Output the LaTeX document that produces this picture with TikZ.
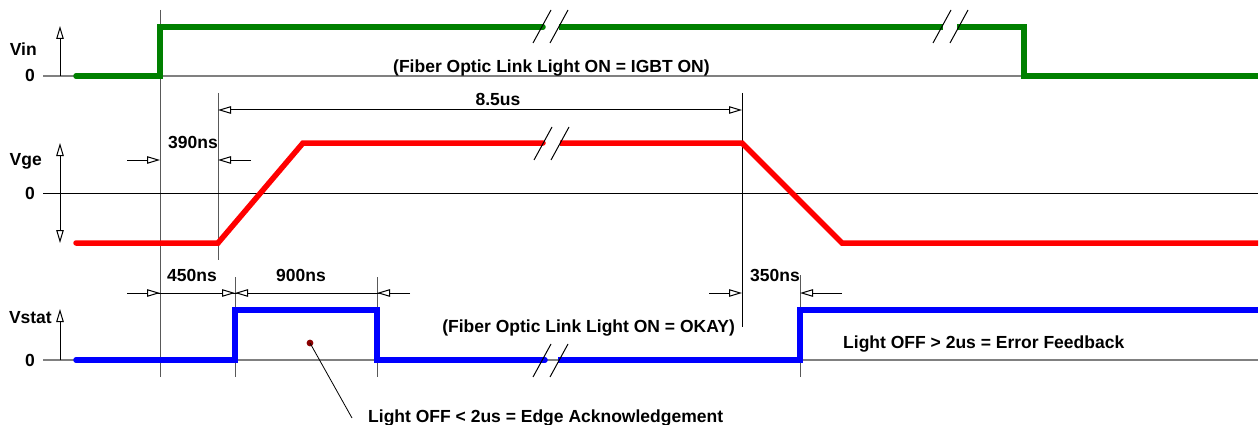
\documentclass[tikz,border=0pt]{standalone}
\usepackage{fontspec}
\setmainfont{Liberation Sans}
\usetikzlibrary{arrows.meta}
\definecolor{sgreen}{RGB}{0,128,0}
\definecolor{sred}{RGB}{255,0,0}
\definecolor{sblue}{RGB}{0,0,255}
\definecolor{dotred}{RGB}{139,0,0}
\begin{document}
\begin{tikzpicture}[x=1pt,y=-1pt,
  lbl/.style={font=\fontsize{17.5}{20}\selectfont\bfseries, inner sep=0pt},
  sig/.style={line width=5.5pt, line cap=butt, line join=miter},
  thinln/.style={line width=1pt},
  refln/.style={line width=1pt, draw=black!65},
  zeroln/.style={line width=1.2pt, draw=black!50},
  brk/.style={line width=1pt, draw=black},
  dimtip/.style={-{Triangle[open,length=13pt,width=7.5pt,fill=white]}},
  dimboth/.style={{Triangle[open,length=13pt,width=7.5pt,fill=white]}-{Triangle[open,length=13pt,width=7.5pt,fill=white]}},
  axtip/.style={-{Triangle[open,length=13pt,width=7.5pt,fill=white]}},
  axboth/.style={{Triangle[open,length=13pt,width=7.5pt,fill=white]}-{Triangle[open,length=13pt,width=7.5pt,fill=white]}}
]
\useasboundingbox (0,0) rectangle (1260,425);

% ---------- reference (vertical) lines ----------
\draw[refln] (160,10) -- (160,377);
\draw[refln] (218,93) -- (218,260);
\draw[thinln] (742,93) -- (742,327);
\draw[refln] (235,277) -- (235,377);
\draw[refln] (377,277) -- (377,377);
\draw[refln] (800,275) -- (800,377);

% ---------- zero lines ----------
\draw[zeroln] (43,76) -- (1024,76);
\draw[thinln] (43,193) -- (1258,193);
\draw[zeroln] (43,360) -- (1258,360);

% ---------- axes ----------
\draw[thinln,axtip] (60,76) -- (60,26);
\draw[thinln,axboth] (60,243) -- (60,143);
\draw[thinln,axtip] (60,360) -- (60,309);

% ---------- axis labels ----------
\node[lbl, anchor=base east] (vin) at (37,56) {Vin};
\node[lbl, anchor=base east] (vin0) at (35,82) {0};
\node[lbl, anchor=base east] (vge) at (42,165) {Vge};
\node[lbl, anchor=base east] (vge0) at (35,199) {0};
\node[lbl, anchor=base east] (vstat) at (52,323) {Vstat};
\node[lbl, anchor=base east] (vstat0) at (35,366) {0};

% ---------- signals ----------
\draw[sig, sgreen, line cap=round] (76,76) -- (160,76) -- (160,27) -- (543,27);
\draw[sig, sgreen] (559,27) -- (943,27);
\draw[sig, sgreen] (957,27) -- (1024,27) -- (1024,76) -- (1258,76);

\draw[sig, sred, line cap=round] (76,243) -- (218,243) -- (303,143) -- (543,143);
\draw[sig, sred] (560,143) -- (742,143) -- (842,243) -- (1258,243);

\draw[sig, sblue, line cap=round] (76,360) -- (235,360) -- (235,310) -- (377,310) -- (377,360) -- (545,360);
\draw[sig, sblue] (558,360) -- (800,360) -- (800,310) -- (1258,310);

% ---------- break marks ----------
\foreach \bx/\by in {533/43, 933/43, 534/160, 533/377} {
  \draw[brk] (\bx,\by) -- ++(18,-33);
  \draw[brk] (\bx+17,\by) -- ++(18,-33);
}

% ---------- dimensions ----------
\draw[thinln,dimtip] (127,160) -- (160,160);
\draw[thinln,dimtip] (251,160) -- (218,160);
\node[lbl, anchor=base] (t390) at (193,148) {390ns};

\draw[thinln,dimboth] (218,110) -- (742,110);
\node[lbl, anchor=base] (t85) at (498,106) {8.5us};

\draw[thinln] (127,293) -- (410,293);
\draw[thinln,dimtip] (127,293) -- (160,293);
\draw[thinln,dimtip] (160,293) -- (235,293);
\draw[thinln,dimtip] (300,293) -- (235,293);
\draw[thinln,dimtip] (410,293) -- (377,293);
\node[lbl, anchor=base] (t450) at (192,281) {450ns};
\node[lbl, anchor=base] (t900) at (301,281) {900ns};

\draw[thinln,dimtip] (709,293) -- (742,293);
\draw[thinln,dimtip] (842,293) -- (800,293);
\node[lbl, anchor=base] (t350) at (775,281) {350ns};

% ---------- annotations ----------
\node[lbl, anchor=base west] (igbt) at (393,73) {(Fiber Optic Link Light ON = IGBT ON)};
\node[lbl, anchor=base east] (okay) at (735,332) {(Fiber Optic Link Light ON = OKAY)};
\node[lbl, anchor=base west] (err) at (843,348) {Light OFF > 2us = Error Feedback};
\node[lbl, anchor=base west] (edge) at (368,422) {Light OFF < 2us = Edge Acknowledgement};

\fill[dotred] (310,343) circle (3.4pt);
\coordinate (dot) at (310,343);
\coordinate (leadend) at (352,418);
\draw[line width=0.8pt] (dot) -- (leadend);
\end{tikzpicture}
\end{document}
